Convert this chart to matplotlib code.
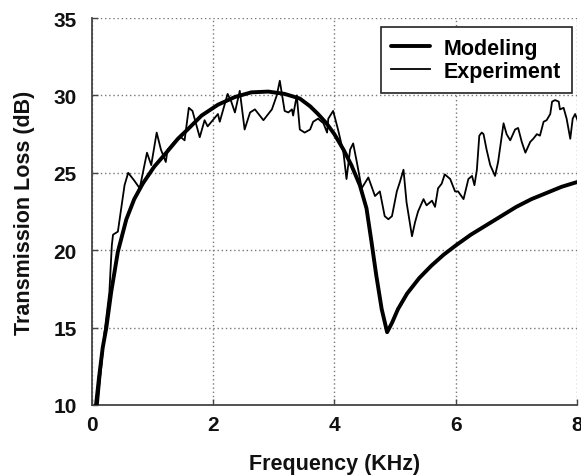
# Transmission loss: modeling vs experiment
import numpy as np
import matplotlib
matplotlib.use("Agg")
import matplotlib.pyplot as plt

# Data
f_model = [0.07, 0.12, 0.18, 0.24, 0.32, 0.43, 0.57, 0.70, 0.84, 1.03, 1.25, 1.42,
           1.58, 1.81, 2.08, 2.36, 2.63, 2.91, 3.18, 3.43, 3.60, 3.73, 3.87, 4.00,
           4.15, 4.28, 4.42, 4.53, 4.61, 4.69, 4.78, 4.87, 4.95, 5.05, 5.20, 5.40,
           5.60, 5.80, 6.00, 6.25, 6.50, 6.75, 7.00, 7.25, 7.50, 7.75, 8.00]
tl_model = [10.0, 11.8, 13.7, 15.0, 17.3, 19.9, 22.0, 23.3, 24.3, 25.4, 26.4, 27.2,
            27.8, 28.7, 29.4, 29.9, 30.2, 30.25, 30.1, 29.8, 29.3, 28.8, 28.2, 27.5,
            26.5, 25.5, 24.2, 22.7, 20.6, 18.4, 16.2, 14.7, 15.3, 16.2, 17.2, 18.2,
            19.0, 19.7, 20.3, 21.0, 21.6, 22.2, 22.8, 23.3, 23.7, 24.1, 24.4]

f_exp = [0.10, 0.21, 0.29, 0.33, 0.35, 0.43, 0.54, 0.60, 0.70, 0.79, 0.91, 0.98,
         1.07, 1.14, 1.22, 1.25, 1.36, 1.47, 1.53, 1.60, 1.66, 1.78, 1.86, 1.91,
         2.08, 2.11, 2.24, 2.30, 2.36, 2.44, 2.52, 2.61, 2.69, 2.83, 2.97, 3.05,
         3.10, 3.18, 3.24, 3.30, 3.32, 3.38, 3.43, 3.51, 3.60, 3.65, 3.73, 3.82,
         3.88, 3.90, 3.98, 4.06, 4.15, 4.20, 4.26, 4.31, 4.37, 4.45, 4.56, 4.67,
         4.75, 4.83, 4.89, 4.95, 5.03, 5.08, 5.14, 5.19, 5.28, 5.33, 5.38, 5.47,
         5.52, 5.61, 5.66, 5.71, 5.77, 5.82, 5.91, 5.99, 6.04, 6.13, 6.21, 6.27,
         6.31, 6.35, 6.39, 6.43, 6.46, 6.51, 6.57, 6.65, 6.70, 6.79, 6.84, 6.90,
         6.98, 7.03, 7.09, 7.15, 7.23, 7.28, 7.34, 7.39, 7.45, 7.50, 7.56, 7.59,
         7.64, 7.70, 7.72, 7.78, 7.83, 7.89, 7.93, 7.97, 8.02]
tl_exp = [10.0, 14.7, 17.3, 20.3, 21.0, 21.2, 24.2, 25.0, 24.5, 24.0, 26.3, 25.5,
          27.6, 26.5, 25.7, 26.5, 27.0, 27.3, 27.1, 29.2, 29.0, 27.3, 28.4, 28.0,
          28.8, 28.3, 30.1, 29.6, 28.9, 30.3, 27.8, 28.9, 29.1, 28.4, 29.1, 30.0,
          30.95, 29.0, 28.9, 29.1, 28.7, 30.0, 27.8, 27.6, 27.8, 28.3, 28.5, 28.2,
          27.6, 28.5, 29.0, 27.8, 26.3, 24.6, 26.5, 26.9, 25.7, 24.0, 24.7, 23.5,
          23.8, 22.2, 22.0, 22.2, 23.8, 24.4, 25.2, 23.1, 20.9, 21.8, 22.5, 23.3,
          22.9, 23.2, 22.8, 24.0, 24.3, 24.9, 24.6, 23.8, 23.8, 23.3, 24.6, 24.8,
          24.2, 25.2, 27.4, 27.6, 27.5, 26.5, 25.5, 24.8, 25.7, 28.2, 27.5, 27.1,
          27.8, 27.9, 27.0, 26.3, 27.0, 27.2, 27.5, 27.4, 28.3, 28.4, 28.8, 29.6,
          29.7, 29.6, 29.1, 29.2, 28.5, 27.2, 28.5, 28.8, 28.3]

xticks = [0, 2, 4, 6, 8]
yticks = [10, 15, 20, 25, 30, 35]

plt.rcParams['font.family'] = ['Liberation Sans', 'DejaVu Sans']
plt.rcParams['font.weight'] = 'bold'

fig = plt.figure(figsize=(5.81, 4.77), dpi=100)
ax = fig.add_axes([0.158, 0.149, 0.835, 0.811])

ax.plot(f_model, tl_model, color='black', lw=2.8, label='Modeling', zorder=3,
        solid_joinstyle='round', solid_capstyle='round')
ax.plot(f_exp, tl_exp, color='black', lw=1.3, label='Experiment', zorder=3,
        solid_joinstyle='round')

ax.set_xlim(0, 8)
ax.set_ylim(10, 35)
ax.set_xticks(xticks)
ax.set_yticks(yticks)
ax.grid(True, color='#777777', linestyle=(0, (1, 2)), linewidth=1.0)

for s in ['top', 'right']:
    ax.spines[s].set_visible(False)
for s in ['left', 'bottom']:
    ax.spines[s].set_color('#444444')
    ax.spines[s].set_linewidth(1.3)

ax.tick_params(axis='both', direction='in', length=4, width=1, color='#444444',
               labelsize=15, labelcolor='#111111')
ax.tick_params(axis='y', pad=11)
ax.tick_params(axis='x', pad=7)
for lab in ax.get_xticklabels() + ax.get_yticklabels():
    lab.set_fontweight('bold')

ax.set_xlabel('Frequency (KHz)', fontsize=15.5, fontweight='bold', color='#111111', labelpad=14)
ax.set_ylabel('Transmission Loss (dB)', fontsize=15.5, fontweight='bold', color='#111111', labelpad=13)

leg = ax.legend(loc='upper right', bbox_to_anchor=(0.99, 0.977), borderaxespad=0,
                fancybox=False, edgecolor='#222222', framealpha=1,
                prop={'size': 15.5, 'weight': 'bold'}, handlelength=1.8,
                handletextpad=0.65, labelspacing=0.1, borderpad=0.5)
leg.get_frame().set_linewidth(1.2)

fig.savefig('out.png', dpi=100)
